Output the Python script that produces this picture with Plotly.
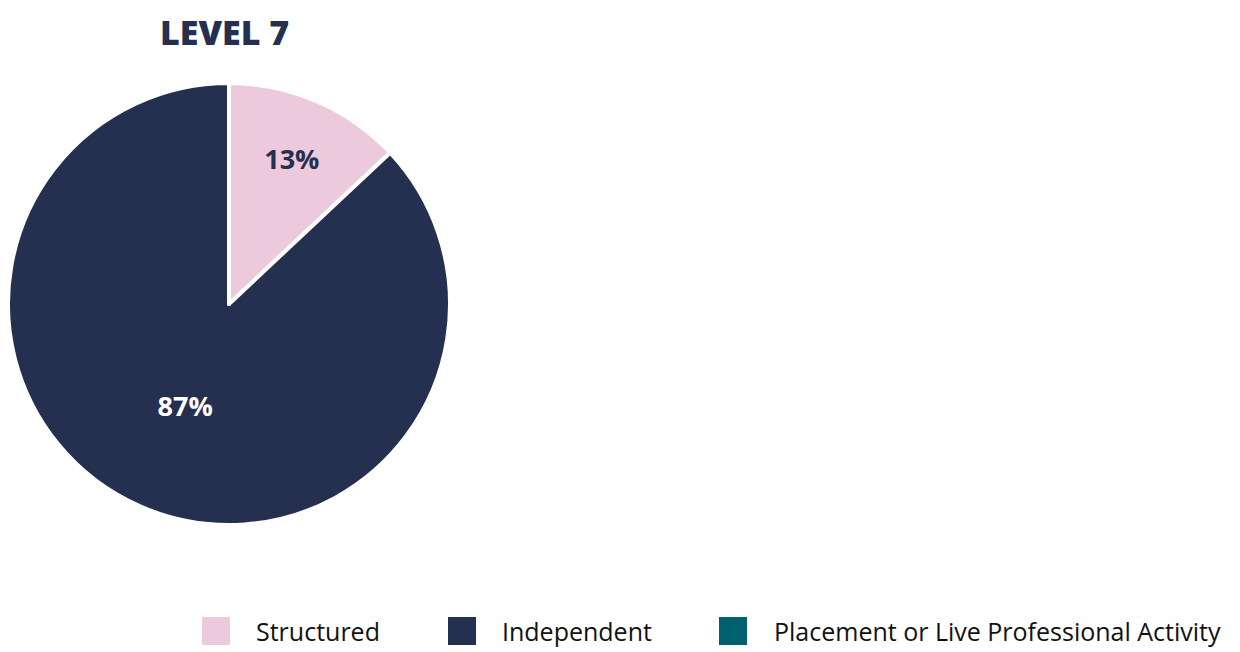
import plotly.graph_objects as go

categories = ["Structured", "Independent", "Placement or Live Professional Activity"]
values = [13, 87, 0]
colors = ["#EDC9DC", "#253050", "#00606E"]
label_colors = ["#253050", "#FFFFFF", "#FFFFFF"]
title_text = "LEVEL 7"

W, H = 1240, 652
OFF = 8  # page body margin
FONT = "Open Sans"


def px(x):
    return (x - OFF) / W


def py(y):
    return 1 - (y - OFF) / H


texts = [f"{v}%" if v > 0 else "" for v in values]

fig = go.Figure()
fig.add_trace(go.Pie(
    labels=categories,
    values=values,
    text=texts,
    textinfo="text",
    textposition="inside",
    insidetextorientation="horizontal",
    insidetextfont=dict(family=FONT, size=27, color=label_colors, weight=700),
    marker=dict(colors=colors, line=dict(color="white", width=4)),
    sort=False,
    direction="clockwise",
    rotation=0,
    hole=0,
    showlegend=False,
    domain=dict(x=[0, 442 / W], y=[py(526), py(82)]),
))

# Custom legend (large square swatches)
swatch_x = [202, 448, 719]
text_x = [254, 500, 772]
shapes = []
annotations = []
for i, cat in enumerate(categories):
    shapes.append(dict(type="rect", xref="paper", yref="paper",
                       x0=px(swatch_x[i]), x1=px(swatch_x[i] + 28),
                       y0=py(645), y1=py(617),
                       fillcolor=colors[i], line=dict(width=0)))
    annotations.append(dict(text=cat, xref="paper", yref="paper",
                            x=px(text_x[i]), y=py(631),
                            xanchor="left", yanchor="middle", showarrow=False,
                            font=dict(family=FONT, size=25, color="#111111")))

annotations.append(dict(text=title_text, xref="paper", yref="paper",
                        x=px(224), y=1, xanchor="center", yanchor="top",
                        showarrow=False, borderpad=0,
                        font=dict(family=FONT, size=34, color="#253050", weight=800)))

fig.update_layout(
    width=W, height=H,
    margin=dict(l=0, r=0, t=0, b=0),
    paper_bgcolor="white", plot_bgcolor="white",
    shapes=shapes, annotations=annotations,
)

fig.write_html("out.html")
